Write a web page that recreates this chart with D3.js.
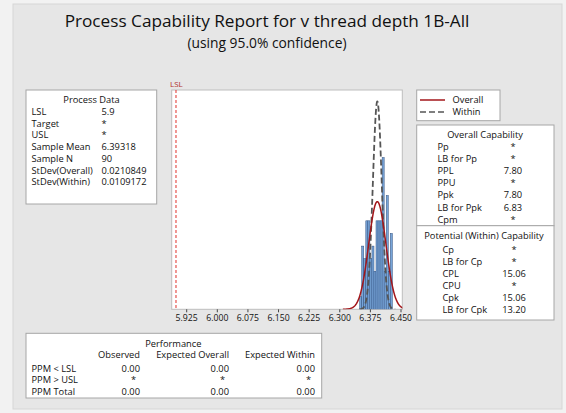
<!DOCTYPE html>
<html><head><meta charset="utf-8">
<script src="https://cdn.jsdelivr.net/npm/d3@7"></script>
<style>
html,body{margin:0;padding:0;background:#f2f2f2;}
svg{display:block;font-family:"Open Sans",sans-serif;}
</style></head>
<body>
<svg id="c" width="566" height="413"></svg>
<script>
// ---- data ----
const LSL = 5.9;
const sampleMean = 6.39318;
const sampleN = 90;
const sdOverall = 0.0210849;
const sdWithin = 0.0109172;
const binWidth = 0.005;
const binStarts = [6.350,6.355,6.360,6.365,6.370,6.375,6.380,6.385,6.390,6.395,6.400,6.405,6.410,6.415,6.420,6.425];
const binCounts = [1,5,4,7,7,4,5,3,7,7,7,12,3,9,3,6];
const xTicks = [5.925,6.000,6.075,6.150,6.225,6.300,6.375,6.450];
const processData = [["LSL","5.9"],["Target","*"],["USL","*"],["Sample Mean","6.39318"],["Sample N","90"],["StDev(Overall)","0.0210849"],["StDev(Within)","0.0109172"]];
const overallCap = [["Pp","*"],["LB for Pp","*"],["PPL","7.80"],["PPU","*"],["Ppk","7.80"],["LB for Ppk","6.83"],["Cpm","*"]];
const withinCap = [["Cp","*"],["LB for Cp","*"],["CPL","15.06"],["CPU","*"],["Cpk","15.06"],["LB for Cpk","13.20"]];
const perfHeaders = ["Observed","Expected Overall","Expected Within"];
const perfRows = [["PPM < LSL","0.00","0.00","0.00"],["PPM > USL","*","*","*"],["PPM Total","0.00","0.00","0.00"]];

const svg = d3.select("#c");
svg.append("rect").attr("x",13).attr("y",4).attr("width",549).attr("height",405)
  .attr("fill","#e6e6e6").attr("stroke","#d6d6d6");

// titles
svg.append("text").attr("x",267).attr("y",27).attr("text-anchor","middle")
  .attr("font-size",17.2).attr("fill","#111").text("Process Capability Report for v thread depth 1B-All");
svg.append("text").attr("x",267).attr("y",47.5).attr("text-anchor","middle")
  .attr("font-size",13.8).attr("fill","#111").text("(using 95.0% confidence)");

// plot area
const pL=171.7, pR=402.3, pT=90, pB=309.3;
const x = d3.scaleLinear().domain([5.8895,6.4544]).range([pL,pR]);
const pdf = (v,m,s)=>Math.exp(-0.5*((v-m)/s)**2)/(s*Math.sqrt(2*Math.PI));
const scaleK = sampleN*binWidth;
const yMax = 1.055*scaleK*pdf(sampleMean,sampleMean,sdWithin);
const y = d3.scaleLinear().domain([0,yMax]).range([pB,pT]);

svg.append("rect").attr("x",pL).attr("y",pT).attr("width",pR-pL).attr("height",pB-pT)
  .attr("fill","#fff").attr("stroke","#bdbdbd");
svg.append("clipPath").attr("id","clip").append("rect")
  .attr("x",pL).attr("y",pT).attr("width",pR-pL).attr("height",pB-pT);
const g = svg.append("g").attr("clip-path","url(#clip)");

g.selectAll("rect.bar").data(binStarts).join("rect").attr("class","bar")
  .attr("x",d=>x(d)).attr("width",d=>x(d+binWidth)-x(d))
  .attr("y",(d,i)=>y(binCounts[i])).attr("height",(d,i)=>y(0)-y(binCounts[i]))
  .attr("fill","#78a5d8").attr("stroke","#2f4f7f").attr("stroke-width",0.5);

function curve(m,s){
  const pts=d3.range(0,401).map(i=>m-4*s+i*(8*s/400));
  return pts.map(v=>[v,scaleK*pdf(v,m,s)]);
}
const line = d3.line().x(d=>x(d[0])).y(d=>y(d[1]));
g.append("path").attr("d",line(curve(sampleMean,sdWithin))).attr("fill","none")
  .attr("stroke","#555").attr("stroke-width",1.8).attr("stroke-dasharray","6,3");
g.append("path").attr("d",line(curve(sampleMean,sdOverall))).attr("fill","none")
  .attr("stroke","#a3161a").attr("stroke-width",1.5);

// LSL
svg.append("line").attr("x1",x(LSL)).attr("x2",x(LSL)).attr("y1",pT).attr("y2",pB)
  .attr("stroke","#e0302a").attr("stroke-width",1).attr("stroke-dasharray","3,2");
svg.append("text").attr("x",x(LSL)-6).attr("y",87).attr("font-size",8).attr("fill","#b23030").text("LSL");

// axis
const ax = svg.append("g").attr("transform",`translate(0,${pB})`)
  .call(d3.axisBottom(x).tickValues(xTicks).tickFormat(d3.format(".3f")).tickSize(3).tickPadding(3));
ax.select(".domain").remove();
ax.selectAll("line").attr("stroke","#444");
ax.selectAll("text").attr("font-size",8.7).attr("font-family","Open Sans").attr("fill","#111");

// helper boxes
function box(x0,y0,w,h){svg.append("rect").attr("x",x0).attr("y",y0).attr("width",w).attr("height",h)
  .attr("fill","#fff").attr("stroke","#a6a6a6");}
function txt(xx,yy,t,anchor){svg.append("text").attr("x",xx).attr("y",yy).attr("font-size",9.3)
  .attr("fill","#111").attr("text-anchor",anchor||"start").text(t);}

// Process data
box(26,90,130.7,114);
txt(91.5,103,"Process Data","middle");
processData.forEach((r,i)=>{txt(31.5,115+i*11.7,r[0]);txt(101.5,115+i*11.7,r[1]);});

// legend
box(416.7,90,83.3,30.7);
svg.append("line").attr("x1",420).attr("x2",445).attr("y1",100).attr("y2",100).attr("stroke","#a3161a").attr("stroke-width",1.5);
svg.append("line").attr("x1",420).attr("x2",445).attr("y1",112).attr("y2",112).attr("stroke","#555").attr("stroke-width",1.5).attr("stroke-dasharray","6,3");
txt(452.5,103,"Overall");txt(452.5,115,"Within");

// Overall capability
box(416.7,125,137.3,100.7);
txt(485,137.5,"Overall Capability","middle");
overallCap.forEach((r,i)=>{txt(437.5,149.5+i*12.2,r[0]);txt(513,149.5+i*12.2,r[1],"middle");});

// Within capability
box(416.7,225.7,137.3,94.3);
txt(484,238.5,"Potential (Within) Capability","middle");
withinCap.forEach((r,i)=>{txt(442.5,253.3+i*11.9,r[0]);txt(514,253.3+i*11.9,r[1],"middle");});

// Performance
box(26,333.3,295.7,64.7);
txt(173.3,346.7,"Performance","middle");
const colX=[140,229,315];
perfHeaders.forEach((h,i)=>txt(colX[i],358.3,h,"end"));
perfRows.forEach((r,i)=>{
  txt(31.5,371.7+i*11.7,r[0]);
  for(let j=1;j<4;j++){
    const v=r[j];
    txt(v==="*"?colX[j-1]-4:colX[j-1],371.7+i*11.7,v,"end");
  }
});
</script>
</body></html>
